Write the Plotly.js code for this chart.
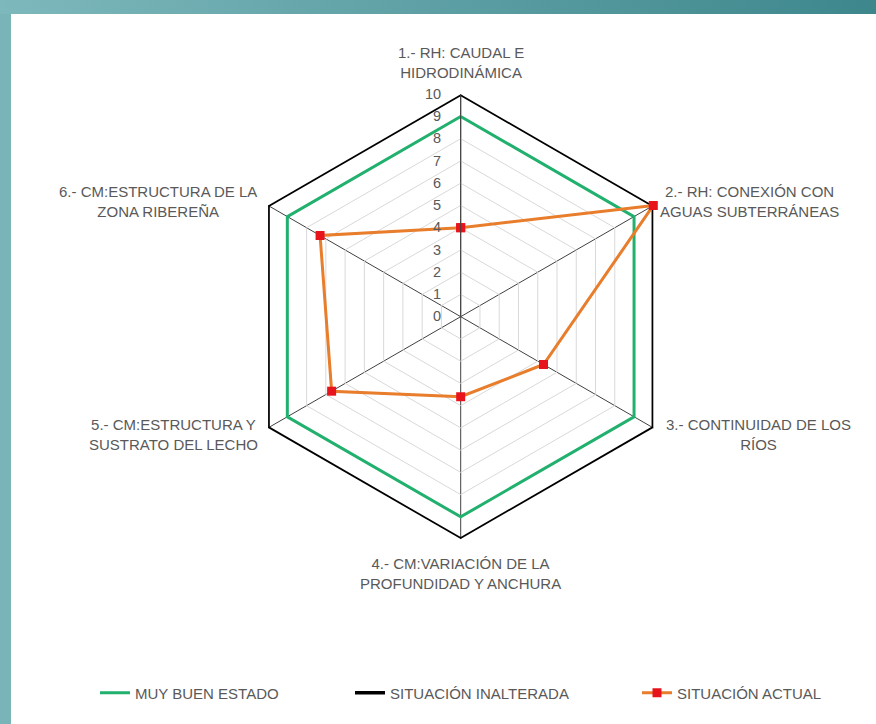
<!DOCTYPE html>
<html>
<head>
<meta charset="utf-8">
<script src="https://cdn.plot.ly/plotly-3.0.1.min.js"></script>
<style>
  html, body { margin: 0; padding: 0; width: 876px; height: 724px; overflow: hidden; }
  body { background: #79b4b8; position: relative; }
  #topbar { position: absolute; left: 0; top: 0; width: 876px; height: 14px;
            background: linear-gradient(to right, #7db8bc, #3d878c); }
  #sheet { position: absolute; left: 11px; top: 14px; right: 0; bottom: 0; background: #ffffff; }
  #chart { position: absolute; left: 0; top: 0; width: 876px; height: 724px; }
</style>
</head>
<body>
<div id="topbar"></div>
<div id="sheet"></div>
<div id="chart"></div>
<script>
// ---- data ----
const categories = [
  "1.- RH: CAUDAL E<br>HIDRODINÁMICA",
  "2.- RH: CONEXIÓN CON<br>AGUAS SUBTERRÁNEAS",
  "3.- CONTINUIDAD DE LOS<br>RÍOS",
  "4.- CM:VARIACIÓN DE LA<br>PROFUNDIDAD Y ANCHURA",
  "5.- CM:ESTRUCTURA Y<br>SUSTRATO DEL LECHO",
  "6.- CM:ESTRUCTURA DE LA<br>ZONA RIBEREÑA"
];
const muyBuenEstado = [9, 9, 9, 9, 9, 9];
const situacionInalterada = [10, 10, 10, 10, 10, 10];
const situacionActual = [4, 10, 4.3, 3.6, 6.7, 7.3];
const radialTicks = [0, 1, 2, 3, 4, 5, 6, 7, 8, 9, 10];
const seriesNames = ["MUY BUEN ESTADO", "SITUACIÓN INALTERADA", "SITUACIÓN ACTUAL"];

// ---- helpers ----
const closeLoop = a => a.concat([a[0]]);
const theta = closeLoop(categories);
const W = 876, H = 724;
const px = x => x / W;
const py = y => 1 - y / H;
const fontFam = "Liberation Sans, Arial, sans-serif";
const txtColor = "#595959";

const traces = [
  {
    type: "scatterpolar", mode: "lines", name: seriesNames[0],
    r: closeLoop(muyBuenEstado), theta: theta,
    line: { color: "#21b06d", width: 3 }, legend: "legend"
  },
  {
    type: "scatterpolar", mode: "lines", name: seriesNames[1],
    r: closeLoop(situacionInalterada), theta: theta,
    line: { color: "#000000", width: 3.5 }, legend: "legend2"
  },
  {
    type: "scatterpolar", mode: "lines+markers", name: seriesNames[2],
    r: closeLoop(situacionActual), theta: theta,
    line: { color: "#e87d2c", width: 3 },
    marker: { symbol: "square", size: 9, color: "#e8141c" },
    legend: "legend3"
  }
];

// label placement (block centres, px)
const labelPos = [
  [461, 62], [749, 201.5], [758, 434.5], [461, 573.5], [173, 434.5], [158, 201]
];
const annotations = categories.map((c, i) => ({
  text: c, xref: "paper", yref: "paper",
  x: px(labelPos[i][0]), y: py(labelPos[i][1]),
  xanchor: "center", yanchor: "middle", align: "center", showarrow: false,
  font: { family: fontFam, size: 15, color: txtColor }
}));

const legendBase = {
  orientation: "h", xanchor: "left", yanchor: "middle", y: py(693),
  bgcolor: "rgba(0,0,0,0)", font: { family: fontFam, size: 15, color: txtColor }
};

const layout = {
  width: W, height: H,
  margin: { l: 0, r: 0, t: 0, b: 0 },
  paper_bgcolor: "rgba(0,0,0,0)",
  plot_bgcolor: "rgba(0,0,0,0)",
  showlegend: true,
  legend: Object.assign({}, legendBase, { x: px(95) }),
  legend2: Object.assign({}, legendBase, { x: px(350) }),
  legend3: Object.assign({}, legendBase, { x: px(637) }),
  annotations: annotations,
  polar: {
    domain: { x: [0.2720, 0.7798], y: [0.2554, 0.8698] },
    bgcolor: "rgba(0,0,0,0)",
    gridshape: "linear",
    radialaxis: {
      range: [0, 10], tickvals: radialTicks, ticktext: radialTicks.map(String),
      angle: 90, side: "counterclockwise",
      showline: true, linecolor: "#404040", linewidth: 1,
      gridcolor: "#d9d9d9", gridwidth: 1,
      ticks: "outside", ticklen: 14, tickcolor: "rgba(0,0,0,0)",
      tickfont: { family: fontFam, size: 14.5, color: txtColor },
      tickangle: 90
    },
    angularaxis: {
      direction: "clockwise", rotation: 90,
      showline: false, showticklabels: false, ticks: "",
      gridcolor: "#404040", gridwidth: 1
    }
  }
};

Plotly.newPlot("chart", traces, layout, { displayModeBar: false, staticPlot: true });
</script>
</body>
</html>
